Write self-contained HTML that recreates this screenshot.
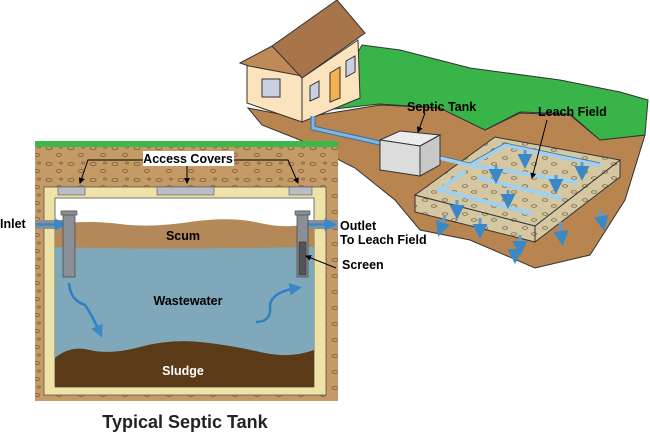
<!DOCTYPE html>
<html><head><meta charset="utf-8"><style>
html,body{margin:0;padding:0;background:#fff;width:650px;height:432px;overflow:hidden}
svg{display:block}
text{font-family:"Liberation Sans",sans-serif;font-weight:bold}
</style></head><body>
<svg width="650" height="432" viewBox="0 0 650 432" xmlns="http://www.w3.org/2000/svg">
<defs>
<pattern id="peb" width="22" height="16" patternUnits="userSpaceOnUse">
<rect width="22" height="16" fill="#c49a66"/>
<ellipse cx="5" cy="4" rx="3" ry="1.6" fill="none" stroke="#7a5a36" stroke-width="0.8"/>
<ellipse cx="15" cy="11" rx="2.5" ry="1.5" fill="none" stroke="#7a5a36" stroke-width="0.8"/>
<ellipse cx="17" cy="3" rx="1.5" ry="1" fill="none" stroke="#7a5a36" stroke-width="0.7"/>
</pattern>
<pattern id="grav" width="20" height="14" patternUnits="userSpaceOnUse">
<rect width="20" height="14" fill="#d6c7a3"/>
<ellipse cx="5" cy="4" rx="2.5" ry="1.3" fill="none" stroke="#6e6040" stroke-width="0.7"/>
<ellipse cx="14" cy="10" rx="2.5" ry="1.3" fill="none" stroke="#6e6040" stroke-width="0.7"/>
</pattern>
<marker id="ar" markerWidth="6" markerHeight="6" refX="5" refY="3" orient="auto"><path d="M0,0L6,3L0,6z" fill="#000"/></marker>
<marker id="ab" markerWidth="5" markerHeight="5" refX="3" refY="2.5" orient="auto"><path d="M0,0L5,2.5L0,5z" fill="#3a88c8"/></marker>
</defs>

<!-- RIGHT SCENE -->
<path d="M248,108 L300,118 L380,105 L440,108 L485,130 L520,113 L570,115 L600,140 L645,135 L625,200 L590,255 L535,268 L470,240 L420,230 L395,200 L355,168 L300,140 L262,125 Z" fill="#b8844f" stroke="#333" stroke-width="1"/>
<path d="M325,110 L362,45 L400,50 L470,68 L560,80 L620,92 L648,100 L645,135 L600,140 L570,114 L520,112 L485,130 L440,108 L380,104 Z" fill="#38b449" stroke="#333" stroke-width="1"/>
<!-- house -->
<polygon points="247,63 272,50 302,78 302,122 247,103" fill="#fbe3bd" stroke="#333"/>
<polygon points="302,78 358,40 360,98 302,122" fill="#fbe3bd" stroke="#333"/>
<polygon points="240,63 272,46 302,76 249,66" fill="#c08a58" stroke="#333"/>
<polygon points="272,46 337,0 365,33 302,78" fill="#a8744a" stroke="#333"/>
<rect x="262" y="79" width="18" height="18" fill="#c9d0e2" stroke="#333"/>
<polygon points="310,86 319,81 319,97 310,101" fill="#c9d0e2" stroke="#333"/>
<polygon points="330,73 340,67 340,98 330,102" fill="#f6b24f" stroke="#333"/>
<polygon points="346,61 355,56 355,72 346,77" fill="#c9d0e2" stroke="#333"/>
<!-- pipe from house -->
<path d="M313,116 L313,128 L380,143" fill="none" stroke="#3a6ea0" stroke-width="5"/>
<path d="M313,116 L313,128 L380,143" fill="none" stroke="#7fb6e4" stroke-width="3"/>
<!-- leach slab -->
<polygon points="415,195 415,212 535,242 535,226" fill="url(#grav)" stroke="#333"/>
<polygon points="535,226 535,242 620,177 620,160" fill="url(#grav)" stroke="#333"/>
<polygon points="415,195 495,137 620,160 535,226" fill="url(#grav)" stroke="#333"/>
<g stroke="#9fd0f0" stroke-width="4" fill="none" stroke-linecap="round">
<path d="M428,155 L470,165 M470,165 L505,145 L600,165 M470,165 L576,182 M464,172 L440,190 L530,213 M480,178 L560,198"/>
</g>
<g stroke="#3a6ea0" stroke-width="0.8" fill="none">
<path d="M428,153 L470,163 L505,143 L600,163"/>
</g>
<!-- tank box -->
<polygon points="380,140 400,131 440,135 420,146" fill="#ececec" stroke="#333"/>
<polygon points="380,140 420,146 420,176 380,170" fill="#dcdcdc" stroke="#333"/>
<polygon points="420,146 440,135 440,165 420,176" fill="#c8c8c8" stroke="#333"/>
<g stroke="#5a9bd0" stroke-width="3" marker-end="url(#ab)">
<line x1="525" y1="150" x2="525" y2="163"/><line x1="496" y1="165" x2="496" y2="178"/>
<line x1="556" y1="175" x2="556" y2="188"/><line x1="582" y1="162" x2="582" y2="175"/>
<line x1="508" y1="190" x2="508" y2="203"/><line x1="457" y1="200" x2="457" y2="214"/>
<line x1="520" y1="235" x2="520" y2="250"/><line x1="560" y1="222" x2="562" y2="240"/>
<line x1="600" y1="210" x2="603" y2="225"/><line x1="480" y1="218" x2="480" y2="233"/>
<line x1="445" y1="216" x2="440" y2="231"/><line x1="515" y1="252" x2="515" y2="258"/>
</g>
<text x="407" y="111" font-size="12.5">Septic Tank</text>
<text x="538" y="116" font-size="12.5">Leach Field</text>
<line x1="425" y1="113" x2="418" y2="132" stroke="#000" marker-end="url(#ar)"/>
<line x1="547" y1="120" x2="532" y2="178" stroke="#000" marker-end="url(#ar)"/>

<!-- LEFT TANK -->
<rect x="35" y="145" width="303" height="256" fill="url(#peb)"/>
<rect x="35" y="141" width="303" height="6" fill="#3cb84a"/>
<rect x="44" y="187" width="282" height="208" fill="#efe2a6" stroke="#555" stroke-width="0.8"/>
<rect x="55" y="198" width="259" height="189" fill="#fff" stroke="#555" stroke-width="0.8"/>
<path d="M55,224 Q90,220 120,224 T190,222 T260,223 T314,222 L314,250 L55,248 Z" fill="#b3895a"/>
<path d="M55,247 Q150,250 314,247 L314,387 L55,387 Z" fill="#7fa9bb"/>
<path d="M55,358 Q70,345 90,350 T140,347 T200,342 T260,352 T314,350 L314,387 L55,387 Z" fill="#5b3a17"/>
<rect x="58" y="187" width="27" height="8" fill="#b8bec6" stroke="#555" stroke-width="0.6"/>
<rect x="157" y="187" width="57" height="8" fill="#b8bec6" stroke="#555" stroke-width="0.6"/>
<rect x="289" y="187" width="23" height="8" fill="#b8bec6" stroke="#555" stroke-width="0.6"/>
<rect x="35" y="220" width="35" height="9" fill="#8a8f95"/>
<line x1="36" y1="224.5" x2="62" y2="224.5" stroke="#3a88c8" stroke-width="2.5" marker-end="url(#ab)"/>
<rect x="63" y="211" width="12" height="66" fill="#8a8f95" stroke="#444" stroke-width="0.7"/>
<rect x="61" y="211" width="16" height="4" fill="#8a8f95" stroke="#444" stroke-width="0.6"/>
<rect x="300" y="220" width="38" height="9" fill="#8a8f95"/>
<line x1="303" y1="224.5" x2="332" y2="224.5" stroke="#3a88c8" stroke-width="2.5" marker-end="url(#ab)"/>
<rect x="297" y="211" width="11" height="66" fill="#8a8f95" stroke="#444" stroke-width="0.7"/>
<rect x="299" y="242" width="7" height="33" fill="#555" stroke="#222" stroke-width="0.5"/>
<rect x="295" y="211" width="15" height="4" fill="#8a8f95" stroke="#444" stroke-width="0.6"/>
<path d="M69,283 Q70,300 85,305 Q92,315 100,333" fill="none" stroke="#2f7fc4" stroke-width="2.5" marker-end="url(#ab)"/>
<path d="M256,322 Q272,322 270,305 Q272,292 297,288" fill="none" stroke="#2f7fc4" stroke-width="2.5" marker-end="url(#ab)"/>
<rect x="143" y="151" width="91" height="15" fill="#fff"/>
<text x="188" y="163" font-size="12.5" text-anchor="middle">Access Covers</text>
<g stroke="#000" fill="none">
<path d="M143,160 L88,160 L80,183" marker-end="url(#ar)"/>
<path d="M187,166 L187,183" marker-end="url(#ar)"/>
<path d="M234,160 L288,160 L298,183" marker-end="url(#ar)"/>
<path d="M336,268 L306,256" marker-end="url(#ar)"/>
</g>
<text x="183" y="240" font-size="12.5" text-anchor="middle">Scum</text>
<text x="188" y="305" font-size="12.5" text-anchor="middle">Wastewater</text>
<text x="183" y="375" font-size="12.5" text-anchor="middle" fill="#fff">Sludge</text>
<text x="0" y="228" font-size="12.5">Inlet</text>
<text x="340" y="230" font-size="12.5">Outlet</text>
<text x="340" y="244" font-size="12.5">To Leach Field</text>
<text x="342" y="269" font-size="12.5">Screen</text>
<text x="185" y="428" font-size="18" text-anchor="middle" fill="#222">Typical Septic Tank</text>
</svg>
</body></html>
